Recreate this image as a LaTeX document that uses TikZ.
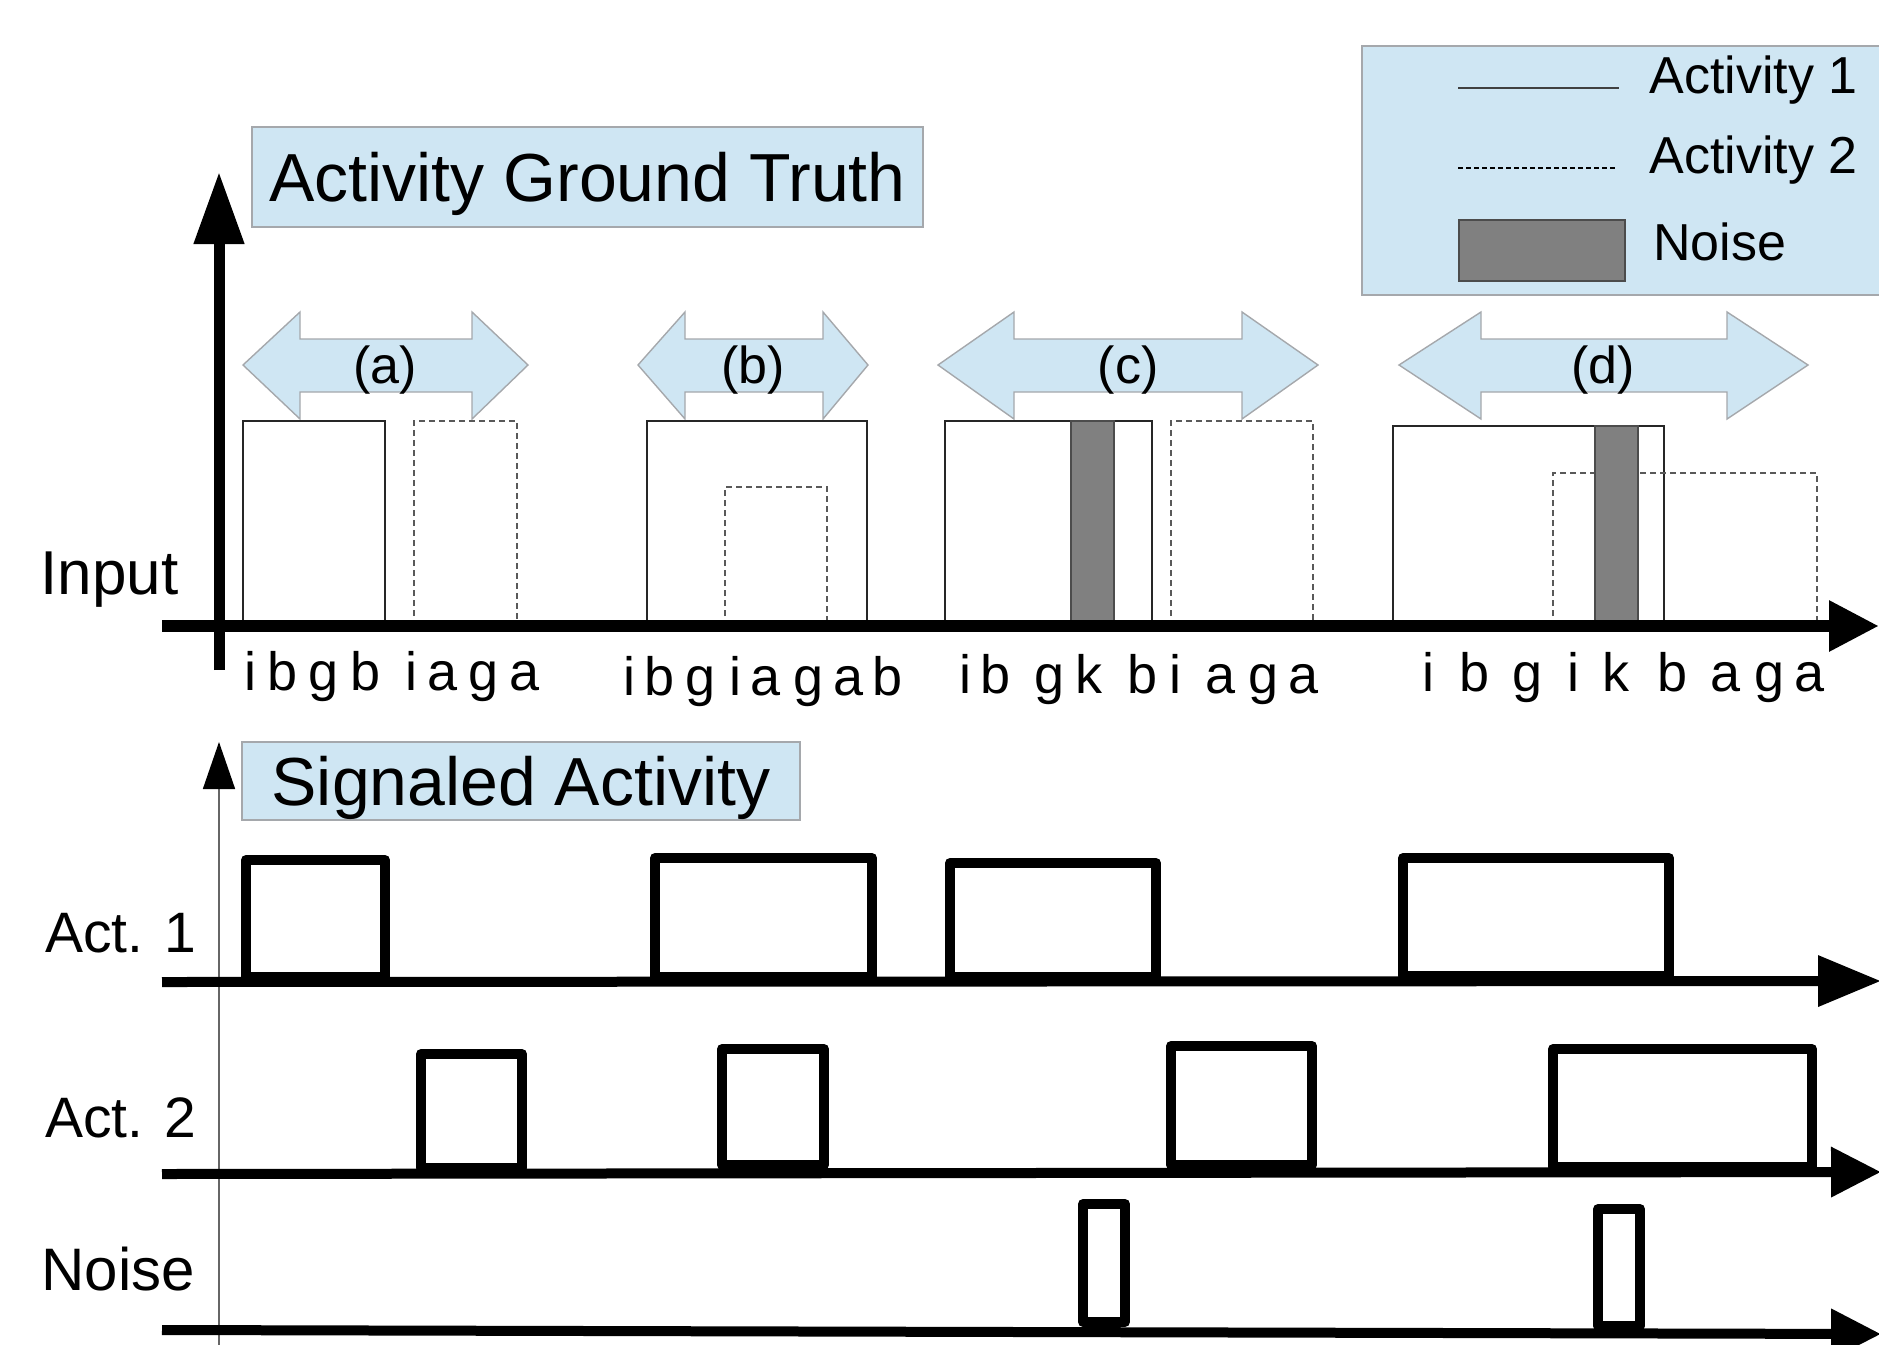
\documentclass[tikz,border=0pt]{standalone}
\usepackage{fontspec}
\setmainfont{Liberation Sans}
\usetikzlibrary{positioning, arrows.meta, calc}
\definecolor{paleblue}{RGB}{207,230,243}
\definecolor{framegray}{RGB}{165,168,172}
\definecolor{noisegray}{RGB}{128,128,128}

\tikzset{
  titlebox/.style={fill=paleblue, draw=framegray, line width=0.8pt, inner sep=0pt,
    text height=24.3pt, text depth=0pt, font=\fontsize{34}{38}\selectfont},
  spanarrow/.style={fill=paleblue, draw=framegray, line width=0.7pt},
  spanlabel/.style={font=\fontsize{26}{30}\selectfont},
  act1/.style={draw=black!85, line width=0.75pt},
  act2/.style={draw=black!65, line width=0.75pt, dash pattern=on 3pt off 2pt},
  noisebar/.style={fill=noisegray, draw=black!70, line width=0.75pt},
  rowlabel/.style={anchor=base west, inner sep=0pt, font=\fontsize{28.5}{32}\selectfont},
  symbol/.style={anchor=base, inner sep=0pt, font=\fontsize{27}{30}\selectfont},
  legendtext/.style={anchor=base west, inner sep=0pt, font=\fontsize{26}{30}\selectfont},
  pulse/.style={draw=black, line width=5pt, line join=round},
  timeaxis/.style={draw=black, line width=5pt},
}

\begin{document}
\begin{tikzpicture}[x=0.5pt, y=-0.5pt]
    \useasboundingbox (0,0) rectangle (1879,1344);
    \clip (0,0) rectangle (1879,1344);

    % legend
    \draw[fill=paleblue, draw=framegray, line width=0.8pt] (1362,46) rectangle (1895,295);
    \coordinate (l1a) at (1458,88);
    \coordinate (l1b) at (1619,88);
    \coordinate (l2a) at (1458,168);
    \coordinate (l2b) at (1617,168);
    \draw[draw=black!75, line width=0.8pt] (l1a) -- (l1b);
    \draw[draw=black, line width=0.7pt, dash pattern=on 2.5pt off 1.5pt] (l2a) -- (l2b);
    \draw[noisebar] (1459,220) rectangle (1625,281);
    \node[legendtext] (leg1) at (1649,93) {Activity 1};
    \node[legendtext] (leg2) at (1649,173) {Activity 2};
    \node[legendtext] (leg3) at (1653,260) {Noise};

    % ground truth
    \node[titlebox, minimum width=335.5pt, minimum height=50pt] (gt) at (587.5,177) {Activity Ground Truth};

    \draw[spanarrow] (243,365) -- (300,312) -- (300,339) -- (472,339) -- (472,312) -- (528,365)
        -- (472,419) -- (472,392) -- (300,392) -- (300,419) -- cycle;
    \draw[spanarrow] (638,365) -- (685,312) -- (685,339) -- (823,339) -- (823,312) -- (868,365)
        -- (823,419) -- (823,392) -- (685,392) -- (685,419) -- cycle;
    \draw[spanarrow] (938,365) -- (1014,312) -- (1014,339) -- (1242,339) -- (1242,312) -- (1318,365)
        -- (1242,419) -- (1242,392) -- (1014,392) -- (1014,419) -- cycle;
    \draw[spanarrow] (1399,365) -- (1481,312) -- (1481,339) -- (1727,339) -- (1727,312) -- (1808,365)
        -- (1727,419) -- (1727,392) -- (1481,392) -- (1481,419) -- cycle;
    \node[spanlabel] (sa) at (385,370) {(a)};
    \node[spanlabel] (sb) at (753,370) {(b)};
    \node[spanlabel] (sc) at (1128,370) {(c)};
    \node[spanlabel] (sd) at (1603,370) {(d)};

    \draw[act1] (243,626) rectangle (385,421);
    \draw[act2] (414,626) rectangle (517,421);
    \draw[act1] (647,626) rectangle (867,421);
    \draw[act2] (725,626) rectangle (827,487);
    \draw[act1] (945,626) rectangle (1152,421);
    \draw[noisebar] (1071,626) rectangle (1114,421);
    \draw[act2] (1171,626) rectangle (1313,421);
    \draw[act1] (1393,626) rectangle (1664,426);
    \draw[act2] (1553,626) rectangle (1817,473);
    \draw[noisebar] (1595,629) rectangle (1638,426);

    \coordinate (vbot) at (219,670);
    \coordinate (vtop) at (219,172);
    \coordinate (hleft) at (162,626);
    \coordinate (hright) at (1879,626);
    \draw[line width=5.5pt, -{Triangle[length=36pt, width=24pt]}] (vbot) -- (vtop);
    \draw[line width=6pt, -{Triangle[length=25pt, width=24pt]}] (hleft) -- (hright);

    \node[rowlabel, font=\fontsize{31}{34}\selectfont] (input) at (40,594) {Input};

    \foreach \x/\c in {250/i, 283/b, 324/g, 366/b, 411/i, 443/a, 484/g, 525/a}
        \node[symbol] at (\x,690) {\c};
    \foreach \x/\c in {629/i, 660/b, 701/g, 735/i, 766/a, 809/g, 849/a, 888/b}
        \node[symbol] at (\x,695) {\c};
    \foreach \x/\c in {965/i, 996/b, 1050/g, 1089/k, 1143/b, 1175/i, 1221/a, 1263/g, 1304/a}
        \node[symbol] at (\x,693) {\c};
    \foreach \x/\c in {1428/i, 1474/b, 1527/g, 1573/i, 1616/k, 1672/b, 1725/a, 1769/g, 1809/a}
        \node[symbol] at (\x,691) {\c};

    % signaled activity
    \node[titlebox, minimum width=279pt, minimum height=39pt] (sig) at (521,781) {Signaled Activity};

    \coordinate (sbot) at (219,1350);
    \coordinate (stop) at (219,742);
    \draw[draw=black!60, line width=0.8pt, -{Triangle[length=23.5pt, width=16pt, color=black]}] (sbot) -- (stop);

    \node[rowlabel] (act1) at (45,952) {Act. 1};
    \node[rowlabel] (act2) at (45,1137) {Act. 2};
    \node[rowlabel, font=\fontsize{30}{33}\selectfont] (noise) at (41,1290) {Noise};

    \draw[pulse] (246,977) rectangle (385,860);
    \draw[pulse] (655,977) rectangle (872,858);
    \draw[pulse] (950,977) rectangle (1156,863);
    \draw[pulse] (1403,976) rectangle (1669,858);

    \draw[pulse] (421,1168) rectangle (522,1054);
    \draw[pulse] (722,1165) rectangle (824,1049);
    \draw[pulse] (1171,1165) rectangle (1312,1046);
    \draw[pulse] (1553,1167) rectangle (1812,1049);

    \draw[pulse] (1083,1322) rectangle (1125,1204);
    \draw[pulse] (1598,1326) rectangle (1640,1209);

    \coordinate (a1l) at (162,982);
    \coordinate (a1r) at (1881,981);
    \coordinate (a2l) at (162,1174);
    \coordinate (a2r) at (1881,1172);
    \coordinate (nl) at (162,1330);
    \coordinate (nr) at (1881,1334);
    \draw[timeaxis, -{Triangle[length=31.5pt, width=24.5pt]}] (a1l) -- (a1r);
    \draw[timeaxis, -{Triangle[length=25pt, width=24pt]}] (a2l) -- (a2r);
    \draw[timeaxis, -{Triangle[length=25pt, width=24pt]}] (nl) -- (nr);
\end{tikzpicture}
\end{document}
